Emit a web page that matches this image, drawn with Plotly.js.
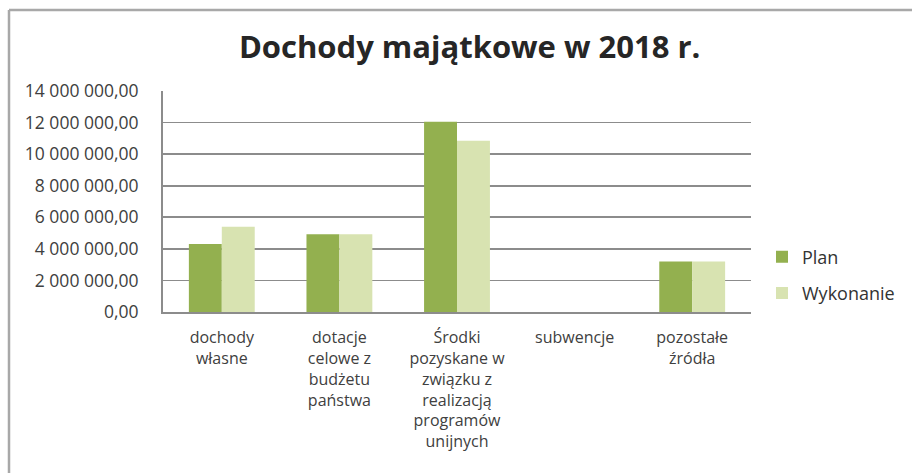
<!DOCTYPE html>
<html>
<head>
<meta charset="utf-8">
<script src="https://cdn.plot.ly/plotly-3.0.1.min.js"></script>
<style>html,body{margin:0;padding:0;background:#fff;}#chart{width:912px;height:473px;}</style>
</head>
<body>
<div id="chart"></div>
<script>
const categories = [
  "dochody<br>własne",
  "dotacje<br>celowe z<br>budżetu<br>państwa",
  "Środki<br>pozyskane w<br>związku z<br>realizacją<br>programów<br>unijnych",
  "subwencje",
  "pozostałe<br>źródła"
];
const planValues = [4300000, 4920000, 12050000, 0, 3200000];
const wykonanieValues = [5400000, 4920000, 10850000, 0, 3200000];
const seriesNames = ["Plan", "Wykonanie"];
const yTicks = [0, 2000000, 4000000, 6000000, 8000000, 10000000, 12000000, 14000000];

const W = 912, H = 473;
const L = 163, R = 751, T = 91, B = 312;
const px = x => (x - L) / (R - L);
const py = y => (B - y) / (B - T);

const data = [
  {type: "bar", name: seriesNames[0], x: categories, y: planValues,
   marker: {color: "#93b04f"}, legendgroup: "a", hoverinfo: "none"},
  {type: "bar", name: seriesNames[1], x: categories, y: wykonanieValues,
   marker: {color: "#d8e3b1"}, legendgroup: "b", hoverinfo: "none"}
];

const layout = {
  width: W, height: H,
  margin: {l: L, r: W - R, t: T, b: H - B, pad: 0},
  paper_bgcolor: "#ffffff", plot_bgcolor: "#ffffff",
  separators: ", ",
  font: {family: "Open Sans, sans-serif", color: "#404040"},
  title: {text: "Dochody majątkowe w 2018 r.", x: 0.515, xanchor: "center",
          y: 1 - 47 / H, yanchor: "middle", yref: "container",
          font: {size: 31, color: "#262626", family: "Open Sans, sans-serif", weight: "bold"}},
  barmode: "group", bargap: 0.44, bargroupgap: 0,
  xaxis: {type: "category", showgrid: false, showline: true, linecolor: "#8c8c8c", linewidth: 2,
          ticks: "outside", ticklen: 10, tickcolor: "rgba(0,0,0,0)",
          tickfont: {size: 16, color: "#404040"}, zeroline: false, fixedrange: true},
  yaxis: {range: [0, 14000000], tickvals: yTicks, tickformat: ",.2f",
          showgrid: true, gridcolor: "#8c8c8c", gridwidth: 1.6,
          showline: true, linecolor: "#8c8c8c", linewidth: 2, zeroline: false,
          ticks: "", ticklabelstandoff: 19, tickfont: {size: 17.5, color: "#404040"}, fixedrange: true},
  legend: {x: px(762), xanchor: "left", y: py(275), yanchor: "middle",
           font: {size: 18, color: "#333333"}, tracegroupgap: 10, traceorder: "grouped",
           bgcolor: "rgba(0,0,0,0)"},
  shapes: [
    {type: "line", xref: "paper", yref: "paper", x0: px(9), x1: px(912), y0: py(10), y1: py(10),
     line: {color: "#a8a8a8", width: 2.5}},
    {type: "line", xref: "paper", yref: "paper", x0: px(9), x1: px(9), y0: py(10), y1: py(473),
     line: {color: "#a8a8a8", width: 2.5}}
  ],
  showlegend: true
};

Plotly.newPlot("chart", data, layout, {displayModeBar: false, staticPlot: true});
</script>
</body>
</html>
